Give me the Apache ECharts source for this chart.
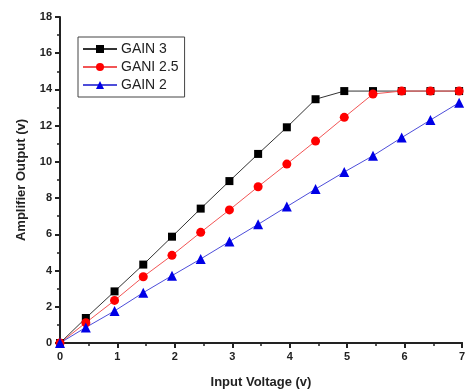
<!DOCTYPE html>
<html>
<head>
<meta charset="utf-8">
<script src="https://cdn.jsdelivr.net/npm/echarts@6/dist/echarts.min.js"></script>
<style>
  html, body { margin: 0; padding: 0; background: #fff; }
  #chart { width: 467px; height: 390px; }
</style>
</head>
<body>
<div id="chart"></div>
<script>
const inputVoltage = [0, 0.45, 0.95, 1.45, 1.95, 2.45, 2.95, 3.45, 3.95, 4.45, 4.95, 5.45, 5.95, 6.45, 6.95]
const gain3 = [0, 1.38, 2.85, 4.33, 5.87, 7.42, 8.94, 10.44, 11.91, 13.46, 13.91, 13.91, 13.91, 13.91, 13.91]
const gain25 = [0, 1.12, 2.35, 3.66, 4.84, 6.11, 7.35, 8.63, 9.88, 11.15, 12.46, 13.75, 13.91, 13.91, 13.91]
const gain2 = [0, 0.86, 1.77, 2.78, 3.72, 4.64, 5.6, 6.55, 7.53, 8.5, 9.44, 10.34, 11.34, 12.31, 13.27]
const seriesNames = ['GAIN 3', 'GANI 2.5', 'GAIN 2']

const pair = (ys) => inputVoltage.map((x, i) => [x, ys[i]])

const chart = echarts.init(document.getElementById('chart'))

const axisCommon = {
  axisLine: { show: true, onZero: false, lineStyle: { color: '#222', width: 2 } },
  axisTick: { show: true, inside: false, length: 5, lineStyle: { color: '#222', width: 2 } },
  minorTick: { show: true, splitNumber: 2, length: 3, lineStyle: { color: '#222', width: 1.5 } },
  splitLine: { show: false },
  axisLabel: { color: '#222', fontFamily: 'Arial', fontWeight: 'bold', fontSize: 11 },
  nameTextStyle: { color: '#222', fontFamily: 'Arial', fontWeight: 'bold', fontSize: 13 },
}

const lineSeries = (name, data, color, lineColor, symbol, size) => ({
  name,
  type: 'line',
  data: pair(data),
  symbol,
  symbolSize: size,
  showAllSymbol: true,
  itemStyle: { color },
  lineStyle: { color: lineColor, width: 1 },
  emphasis: { disabled: true },
  animation: false,
})

const option = {
  animation: false,
  grid: { left: 60, right: 5, top: 17, bottom: 47, outerBoundsMode: 'none' },
  legend: {
    orient: 'vertical',
    left: 78,
    top: 37,
    padding: [5, 6, 5, 4],
    itemGap: 4,
    itemWidth: 34,
    itemHeight: 10,
    borderColor: '#444',
    borderWidth: 1,
    textStyle: { fontFamily: 'Arial', fontSize: 14, color: '#222', padding: [0, 0, 0, -1] },
    data: seriesNames,
  },
  xAxis: [
    {
      ...axisCommon,
      type: 'value',
      min: 0,
      max: 7,
      interval: 1,
      name: 'Input Voltage (v)',
      nameLocation: 'middle',
      nameGap: 33,
      axisLabel: { ...axisCommon.axisLabel, margin: 8 },
    },
    {
      type: 'value',
      position: 'top',
      min: 0,
      max: 7,
      axisLine: { show: true, lineStyle: { color: '#222', width: 2 } },
      axisTick: { show: false },
      axisLabel: { show: false },
      splitLine: { show: false },
    },
  ],
  yAxis: {
    ...axisCommon,
    type: 'value',
    min: 0,
    max: 18,
    interval: 2,
    name: 'Amplifier Output (v)',
    nameLocation: 'middle',
    nameGap: 32,
    axisLabel: { ...axisCommon.axisLabel, margin: 8 },
  },
  series: [
    lineSeries(seriesNames[0], gain3, '#000', '#333', 'rect', 8),
    lineSeries(seriesNames[1], gain25, '#f00', '#f25555', 'circle', 9),
    lineSeries(seriesNames[2], gain2, '#0000e6', '#4d4dd9', 'triangle', 10),
  ],
}

chart.setOption(option)
</script>
</body>
</html>
